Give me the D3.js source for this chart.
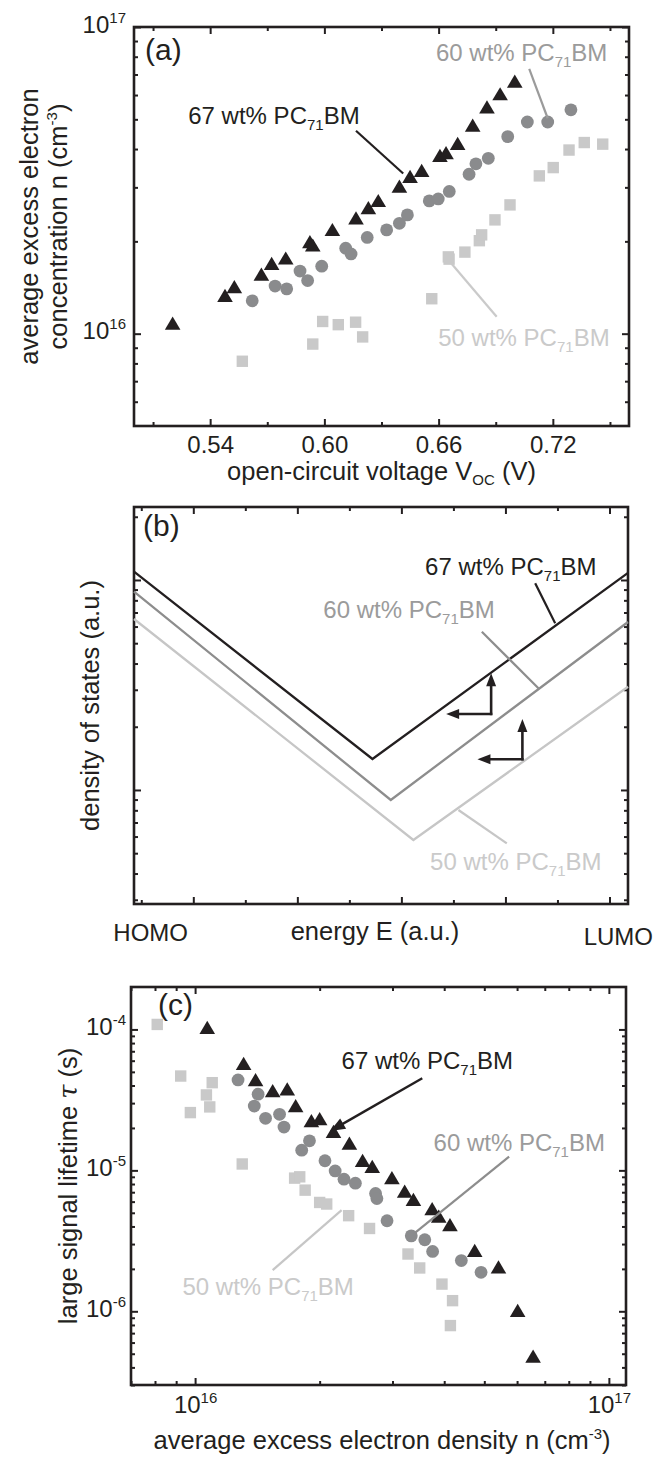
<!DOCTYPE html>
<html><head><meta charset="utf-8">
<script src="https://cdn.jsdelivr.net/npm/d3@7"></script>
<style>
body{margin:0;background:#fff}
svg{display:block}
text{font-family:"Liberation Sans",Arial,Helvetica,sans-serif}
</style>
</head><body>
<svg id="fig" width="656" height="1458"></svg>
<script>
// ================= DATA =================
// Panel (a): average excess electron concentration vs open-circuit voltage
const aVoc67 = [0.5203,0.5478,0.5527,0.5669,0.5723,0.5797,0.5924,0.5939,0.6042,0.6166,0.6231,0.6283,0.6394,0.6450,0.6511,0.6607,0.6639,0.6700,0.6779,0.6854,0.6923,0.7000];
const aN67   = [1.08e16,1.33e16,1.42e16,1.56e16,1.69e16,1.76e16,1.99e16,1.94e16,2.18e16,2.38e16,2.57e16,2.71e16,3.02e16,3.25e16,3.40e16,3.80e16,3.88e16,4.16e16,4.77e16,5.47e16,6.04e16,6.64e16];
const aVoc60 = [0.5621,0.5741,0.5802,0.5872,0.5912,0.5986,0.6112,0.6140,0.6225,0.6327,0.6394,0.6436,0.6551,0.6598,0.6656,0.6760,0.6796,0.6861,0.6963,0.7066,0.7173,0.7295];
const aN60   = [1.28e16,1.43e16,1.40e16,1.60e16,1.49e16,1.66e16,1.90e16,1.82e16,2.06e16,2.18e16,2.29e16,2.44e16,2.71e16,2.75e16,2.91e16,3.31e16,3.58e16,3.73e16,4.39e16,4.90e16,4.90e16,5.37e16];
const aVoc50 = [0.5569,0.5939,0.5991,0.6073,0.6164,0.6201,0.6564,0.6651,0.6655,0.6738,0.6814,0.6826,0.6896,0.6975,0.7129,0.7202,0.7285,0.7365,0.7462];
const aN50   = [8.13e15,9.25e15,1.096e16,1.07e16,1.09e16,9.76e15,1.30e16,1.78e16,1.75e16,1.845e16,2.01e16,2.10e16,2.35e16,2.63e16,3.27e16,3.48e16,3.97e16,4.20e16,4.15e16];
const aXTicks = [0.54,0.60,0.66,0.72];
const aXMinor = [0.51,0.57,0.63,0.69,0.75];
const aYTicks = [1e16,1e17];
const aYMinor = [6e15,7e15,8e15,9e15,2e16,3e16,4e16,5e16,6e16,7e16,8e16,9e16];

// Panel (b): schematic density of states (energy a.u., DOS a.u.)
const bE67 = [-0.570,1.722,4.178], bD67 = [109.5,14.05,108.1];
const bE60 = [-0.570,1.898,4.178], bD60 = [88.0,8.96,63.1];
const bE50 = [-0.570,2.115,4.178], bD50 = [65.2,5.78,31.0];
const bXTicks = [0,1,2,3,4];
const bXMinor = [-0.5,0.5,1.5,2.5,3.5];
const bYTicks = [10,100];
const bYMinor = [3,4,5,6,7,8,9,20,30,40,50,60,70,80,90,200];
const bEdgeLabels = ["HOMO","energy E (a.u.)","LUMO"];

// Panel (c): large signal lifetime vs average excess electron density
const cN67   = [1.07e16,1.31e16,1.40e16,1.54e16,1.67e16,1.75e16,1.91e16,2.00e16,2.16e16,2.36e16,2.54e16,2.68e16,2.99e16,3.21e16,3.37e16,3.74e16,3.88e16,4.13e16,4.74e16,5.41e16,6.02e16,6.56e16];
const cTau67 = [1.026e-4,5.71e-5,4.38e-5,3.66e-5,3.76e-5,2.86e-5,2.24e-5,2.31e-5,1.88e-5,1.55e-5,1.17e-5,1.06e-5,8.81e-6,7.08e-6,6.18e-6,5.31e-6,4.71e-6,4.09e-6,2.69e-6,2.05e-6,1.01e-6,4.78e-7];
const cN60   = [1.27e16,1.42e16,1.39e16,1.48e16,1.60e16,1.64e16,1.89e16,1.81e16,2.06e16,2.18e16,2.29e16,2.44e16,2.73e16,2.75e16,2.91e16,3.33e16,3.59e16,3.75e16,4.40e16,4.91e16];
const cTau60 = [4.38e-5,3.47e-5,2.86e-5,2.34e-5,2.50e-5,2.03e-5,1.62e-5,1.39e-5,1.17e-5,9.91e-6,8.66e-6,8.11e-6,6.85e-6,6.31e-6,4.39e-6,3.43e-6,3.22e-6,2.66e-6,2.29e-6,1.89e-6];
const cN50   = [8.10e15,9.23e15,1.10e16,1.065e16,1.085e16,9.74e15,1.30e16,1.74e16,1.79e16,1.845e16,2.00e16,2.08e16,2.35e16,2.64e16,3.27e16,3.49e16,3.95e16,4.19e16,4.14e16];
const cTau50 = [1.085e-4,4.67e-5,4.19e-5,3.43e-5,2.82e-5,2.57e-5,1.11e-5,8.81e-6,9.00e-6,7.24e-6,5.92e-6,5.77e-6,4.77e-6,3.87e-6,2.55e-6,2.03e-6,1.56e-6,1.19e-6,7.92e-7];
const cXTicks = [1e16,1e17];
const cXMinor = [7e15,8e15,9e15,2e16,3e16,4e16,5e16,6e16,7e16,8e16,9e16];
const cYTicks = [1e-6,1e-5,1e-4];
const cYMinor = [3e-7,4e-7,5e-7,6e-7,7e-7,8e-7,9e-7,2e-6,3e-6,4e-6,5e-6,6e-6,7e-6,8e-6,9e-6,2e-5,3e-5,4e-5,5e-5,6e-5,7e-5,8e-5,9e-5];

const seriesNames = ["67","60","50"];

// ================= STYLE =================
const BLACK = "#231f20", GRAY = "#8a8b8d", LIGHT = "#c9c9c9";
const GRAY_TXT = "#9b9b9b", LIGHT_TXT = "#cacaca";
const GRAY_LINE = "#8d8d8d", LIGHT_LINE = "#c6c6c6";
const FS_TICK = 24, FS_TITLE = 25.5, FS_NOTE = 24, FS_TAG = 30;

const svg = d3.select("#fig");
svg.append("rect").attr("width",656).attr("height",1458).attr("fill","#fff");

function panel(left, top){
  return svg.append("g").attr("transform",`translate(${left},${top})`);
}

function axesFrame(g, x, y, w, h, o){
  const add = (axis, tr) => {
    const a = g.append("g").attr("transform", tr).call(axis);
    a.attr("font-size", null).attr("font-family", null);
    a.select(".domain").remove();
    a.selectAll("line").attr("stroke", BLACK).attr("stroke-width", 2);
    return a;
  };
  const none = () => "";
  const bm = add(d3.axisBottom(x).tickValues(o.xMajor).tickSize(-7).tickFormat(o.xFmt || none), `translate(0,${h})`);
  add(d3.axisBottom(x).tickValues(o.xMinor).tickSize(-4).tickFormat(none), `translate(0,${h})`);
  add(d3.axisTop(x).tickValues(o.xMajor).tickSize(-7).tickFormat(none), "translate(0,0)");
  add(d3.axisTop(x).tickValues(o.xMinor).tickSize(-4).tickFormat(none), "translate(0,0)");
  const lm = add(d3.axisLeft(y).tickValues(o.yMajor).tickSize(-7).tickFormat(o.yFmt || none), "translate(0,0)");
  add(d3.axisLeft(y).tickValues(o.yMinor).tickSize(-4).tickFormat(none), "translate(0,0)");
  add(d3.axisRight(y).tickValues(o.yMajor).tickSize(-7).tickFormat(none), `translate(${w},0)`);
  add(d3.axisRight(y).tickValues(o.yMinor).tickSize(-4).tickFormat(none), `translate(${w},0)`);
  g.append("rect").attr("width", w).attr("height", h).attr("fill","none")
    .attr("stroke", BLACK).attr("stroke-width", 2.6);
  bm.selectAll("text").attr("fill", BLACK).attr("font-size", FS_TICK).attr("y", o.xLabelY || 27).attr("dy", null);
  lm.selectAll("text").attr("fill", BLACK).attr("font-size", FS_TICK).attr("x", -(o.yLabelPad || 8)).attr("dy", "0.22em");
  return {bm, lm};
}

function pow10Labels(sel){
  sel.selectAll("text").each(function(d){
    const t = d3.select(this);
    const e = Math.round(Math.log10(d));
    t.text("10");
    t.append("tspan").attr("dy", -10).attr("font-size", 15).text(String(e));
  });
}

function pctLabel(g, x, y, pct, color){
  const t = g.append("text").attr("x", x).attr("y", y).attr("fill", color).attr("font-size", FS_NOTE);
  t.append("tspan").text(pct + " wt% PC");
  t.append("tspan").attr("dy", 6).attr("font-size", 15).text("71");
  t.append("tspan").attr("dy", -6).text("BM");
  return t;
}

function line(g, x1, y1, x2, y2, color, sw){
  g.append("line").attr("x1",x1).attr("y1",y1).attr("x2",x2).attr("y2",y2)
    .attr("stroke", color).attr("stroke-width", sw || 2);
}

function arrow(g, x1, y1, x2, y2, color, sw, len, wid){
  len = len || 13; wid = wid || 5;
  const dx = x2-x1, dy = y2-y1, L = Math.hypot(dx,dy), ux = dx/L, uy = dy/L;
  const bx = x2-ux*len, by = y2-uy*len;
  line(g, x1, y1, bx+ux*1, by+uy*1, color, sw);
  g.append("path").attr("d", `M${x2},${y2}L${bx-uy*wid},${by+ux*wid}L${bx+uy*wid},${by-ux*wid}Z`).attr("fill", color);
}

const triPath = "M0,-7L7.8,6.2L-7.8,6.2Z";
const circR = 6.4, sq = 11.4;

function drawMarkers(g, xs, ys, x, y, kind, color){
  const pts = xs.map((v,i)=>[x(v), y(ys[i])]);
  const s = g.append("g");
  if(kind==="tri"){
    s.selectAll("path").data(pts).join("path").attr("d", triPath)
      .attr("transform", d=>`translate(${d[0]},${d[1]})`).attr("fill", color);
  } else if(kind==="circ"){
    s.selectAll("circle").data(pts).join("circle").attr("cx", d=>d[0]).attr("cy", d=>d[1]).attr("r", circR).attr("fill", color);
  } else {
    s.selectAll("rect").data(pts).join("rect").attr("x", d=>d[0]-sq/2).attr("y", d=>d[1]-sq/2)
      .attr("width", sq).attr("height", sq).attr("fill", color);
  }
}

function rotTitle(x, yc, build){
  const t = svg.append("text").attr("transform", `translate(${x},${yc}) rotate(-90)`)
    .attr("text-anchor","middle").attr("font-size", FS_TITLE).attr("fill", BLACK);
  build(t);
  return t;
}

// ================= PANEL (a) =================
{
  const L=134, T=27, w=495, h=399;
  const g = panel(L, T);
  const x = d3.scaleLinear().domain([0.5,0.76]).range([0,w]);
  const y = d3.scaleLog().domain([5e15,1e17]).range([h,0]);
  const ax = axesFrame(g, x, y, w, h, {xMajor:aXTicks, xMinor:aXMinor, yMajor:aYTicks, yMinor:aYMinor,
    xFmt:d3.format(".2f"), yFmt:()=>"", xLabelY:27, yLabelPad:8});
  pow10Labels(ax.lm);
  drawMarkers(g, aVoc50, aN50, x, y, "sq", LIGHT);
  drawMarkers(g, aVoc60, aN60, x, y, "circ", GRAY);
  drawMarkers(g, aVoc67, aN67, x, y, "tri", BLACK);
  g.append("text").attr("x", x(0.5058)).attr("y", y(7.81e16)).attr("font-size", FS_TAG).attr("fill", BLACK).text("(a)");
  pctLabel(g, x(0.5285), y(4.83e16), seriesNames[0], BLACK);
  pctLabel(g, x(0.6586), y(7.74e16), seriesNames[1], GRAY_TXT);
  pctLabel(g, x(0.6598), y(9.14e15), seriesNames[2], LIGHT_TXT);
  line(g, x(0.6166), y(4.59e16), x(0.6414), y(3.33e16), BLACK, 2.2);
  line(g, x(0.7076), y(7.30e16), x(0.7173), y(5.04e16), GRAY_TXT, 2.2);
  line(g, x(0.6665), y(1.70e16), x(0.6905), y(1.136e16), LIGHT_TXT, 2.2);
  const xt = svg.append("text").attr("x", L+w/2).attr("y", 480).attr("text-anchor","middle")
    .attr("font-size", FS_TITLE).attr("fill", BLACK);
  xt.append("tspan").text("open-circuit voltage V");
  xt.append("tspan").attr("dy", 5).attr("font-size", 15).text("OC");
  xt.append("tspan").attr("dy", -5).text(" (V)");
  rotTitle(38, T+h/2, t=>t.text("average excess electron"));
  rotTitle(67, T+h/2, t=>{
    t.append("tspan").text("concentration n (cm");
    t.append("tspan").attr("dy", -10).attr("font-size", 15).text("-3");
    t.append("tspan").attr("dy", 10).text(")");
  });
}

// ================= PANEL (b) =================
{
  const L=134, T=507, w=494, h=397;
  const g = panel(L, T);
  const x = d3.scaleLinear().domain([-0.570,4.178]).range([0,w]);
  const y = d3.scaleLog().domain([2.864,222.6]).range([h,0]);
  axesFrame(g, x, y, w, h, {xMajor:bXTicks, xMinor:bXMinor, yMajor:bYTicks, yMinor:bYMinor});
  const ln = d3.line().x(d=>x(d[0])).y(d=>y(d[1]));
  const draw = (E, D, c) => g.append("path").attr("d", ln(E.map((e,i)=>[e,D[i]])))
    .attr("fill","none").attr("stroke", c).attr("stroke-width", 2.3);
  draw(bE50, bD50, LIGHT_LINE);
  draw(bE60, bD60, GRAY_LINE);
  draw(bE67, bD67, BLACK);
  line(g, x(3.286), y(96.4), x(3.478), y(62.2), BLACK, 2.2);
  line(g, x(2.773), y(56.7), x(3.317), y(30.5), GRAY_LINE, 2.2);
  line(g, x(2.548), y(8.03), x(3.013), y(5.57), LIGHT_LINE, 2.2);
  const arrows = [{x:2.8625,y:23.0,xl:2.43,yu:35.96},{x:3.163,y:14.0,xl:2.731,yu:21.8}];
  arrows.forEach(a=>{
    arrow(g, x(a.x), y(a.y)+1.2, x(a.x), y(a.yu), BLACK, 2.6, 13, 5);
    arrow(g, x(a.x)+1.2, y(a.y), x(a.xl), y(a.y), BLACK, 2.6, 13, 5);
  });
  g.append("text").attr("x", x(-0.4837)).attr("y", y(162)).attr("font-size", FS_TAG).attr("fill", BLACK).text("(b)");
  pctLabel(g, x(2.228), y(105.6), seriesNames[0], BLACK);
  pctLabel(g, x(1.25), y(65.9), seriesNames[1], GRAY_TXT);
  pctLabel(g, x(2.276), y(4.16), seriesNames[2], LIGHT_TXT);
  svg.append("text").attr("x", 188).attr("y", 941).attr("text-anchor","end").attr("font-size", 24).attr("fill", BLACK).text(bEdgeLabels[0]);
  svg.append("text").attr("x", 375).attr("y", 940).attr("text-anchor","middle").attr("font-size", FS_TITLE).attr("fill", BLACK).text(bEdgeLabels[1]);
  svg.append("text").attr("x", 653).attr("y", 945).attr("text-anchor","end").attr("font-size", 24).attr("fill", BLACK).text(bEdgeLabels[2]);
  rotTitle(99, T+h/2, t=>t.text("density of states (a.u.)"));
}

// ================= PANEL (c) =================
{
  const L=131, T=987, w=495, h=398;
  const g = panel(L, T);
  const x = d3.scaleLog().domain([7e15,1.1e17]).range([0,w]);
  const y = d3.scaleLog().domain([3e-7,2e-4]).range([h,0]);
  const ax = axesFrame(g, x, y, w, h, {xMajor:cXTicks, xMinor:cXMinor, yMajor:cYTicks, yMinor:cYMinor,
    xFmt:()=>"", yFmt:()=>"", xLabelY:28, yLabelPad:5});
  pow10Labels(ax.lm);
  pow10Labels(ax.bm);
  ax.bm.selectAll("text").attr("text-anchor","middle");
  drawMarkers(g, cN50, cTau50, x, y, "sq", LIGHT);
  drawMarkers(g, cN60, cTau60, x, y, "circ", GRAY);
  drawMarkers(g, cN67, cTau67, x, y, "tri", BLACK);
  g.append("text").attr("x", x(8.13e15)).attr("y", y(1.26e-4)).attr("font-size", FS_TAG).attr("fill", BLACK).text("(c)");
  pctLabel(g, x(2.26e16), y(5.23e-5), seriesNames[0], BLACK);
  pctLabel(g, x(3.77e16), y(1.37e-5), seriesNames[1], GRAY_TXT);
  pctLabel(g, x(9.32e15), y(1.31e-6), seriesNames[2], LIGHT_TXT);
  arrow(g, x(3.54e16), y(4.50e-5), x(2.12e16), y(1.90e-5), BLACK, 2.4, 15, 6);
  line(g, x(5.74e16), y(1.25e-5), x(3.41e16), y(3.63e-6), GRAY_LINE, 2.2);
  line(g, x(1.54e16), y(1.96e-6), x(2.26e16), y(5.22e-6), LIGHT_LINE, 2.2);
  const xt = svg.append("text").attr("x", 382).attr("y", 1449).attr("text-anchor","middle")
    .attr("font-size", FS_TITLE).attr("fill", BLACK);
  xt.append("tspan").text("average excess electron density n (cm");
  xt.append("tspan").attr("dy", -10).attr("font-size", 15).text("-3");
  xt.append("tspan").attr("dy", 10).text(")");
  rotTitle(77, T+h/2, t=>{
    t.append("tspan").text("large signal lifetime ");
    t.append("tspan").attr("font-style","italic").attr("font-family","\"DejaVu Serif\",serif").text("τ");
    t.append("tspan").text(" (s)");
  });
}
</script>
</body></html>
